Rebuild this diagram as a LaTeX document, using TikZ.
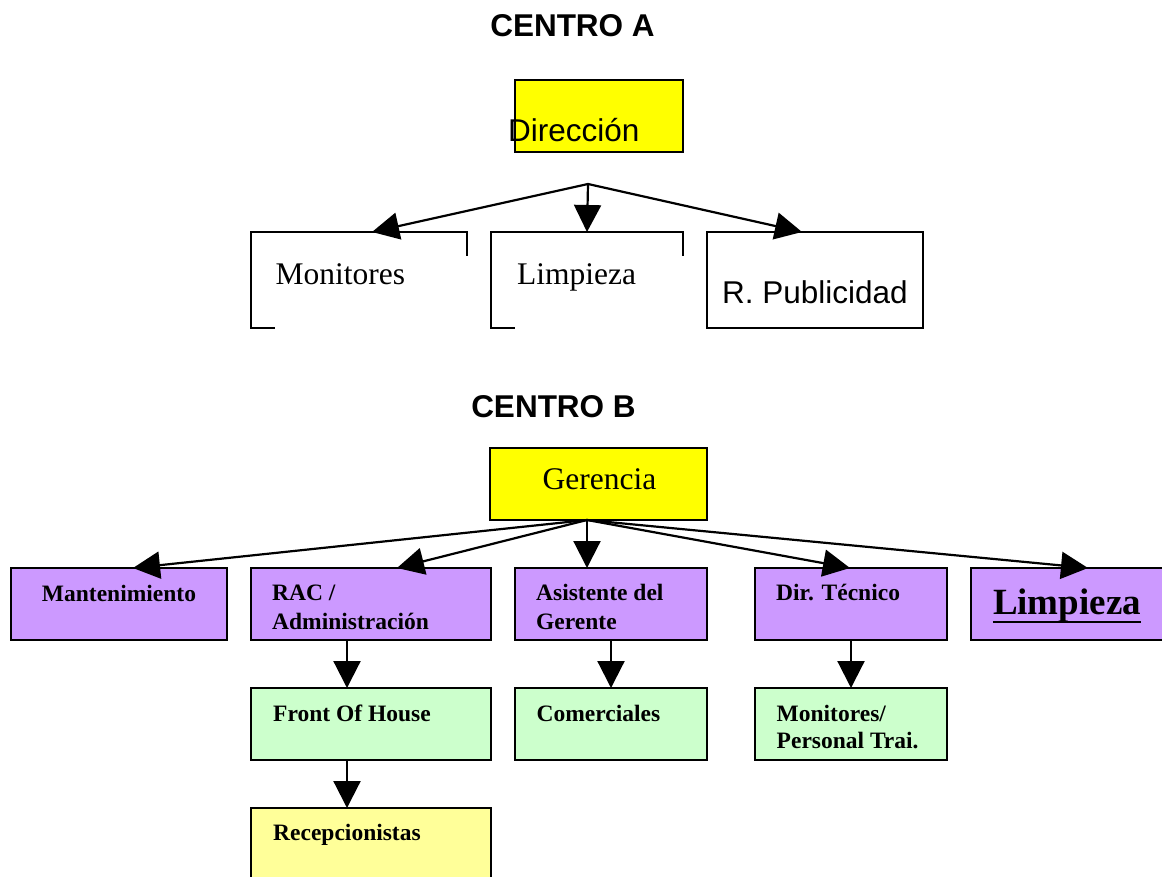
\documentclass[tikz,border=0pt]{standalone}
\usepackage{fontspec}
\setmainfont{Liberation Serif}
\newfontfamily\arialf{Liberation Sans}
\usetikzlibrary{arrows.meta,calc}
\definecolor{yel}{HTML}{FFFF00}
\definecolor{pur}{HTML}{CC99FF}
\definecolor{grn}{HTML}{CCFFCC}
\definecolor{lyel}{HTML}{FFFF99}
\tikzset{
 box/.style={draw=black, line width=2pt, anchor=north west, inner sep=0pt, outer sep=0pt},
 txt/.style={anchor=base west, inner sep=0pt},
 ctxt/.style={anchor=base, inner sep=0pt},
 conn/.style={line width=2.2pt, -{Triangle[length=27pt,width=27pt]}},
 serifbig/.style={font=\fontsize{31.5}{36}\selectfont},
 sansbig/.style={font=\arialf\fontsize{31.5}{36}\selectfont},
 headtxt/.style={font=\arialf\bfseries\fontsize{31.5}{36}\selectfont},
 smalltxt/.style={font=\bfseries\fontsize{23.5}{28}\selectfont},
 hugetxt/.style={font=\bfseries\fontsize{37}{42}\selectfont},
}
\begin{document}
\begin{tikzpicture}[x=1pt,y=-1pt]
\useasboundingbox (0,0) rectangle (1162,877);
\fill[white] (0,0) rectangle (1162,877);

% ---------- CENTRO A ----------
\node[ctxt, headtxt] (ca) at (572.5,37) {CENTRO A};
\node[box, fill=yel, minimum width=168pt, minimum height=72pt] (dir) at (515,80) {};
\node[txt, sansbig] (dirt) at (508,142) {Dirección};

\node[box, fill=white, minimum width=216pt, minimum height=96pt] (mon) at (251,232) {};
\node[box, fill=white, minimum width=192pt, minimum height=96pt] (lim) at (491,232) {};
\node[box, fill=white, minimum width=216pt, minimum height=96pt] (pub) at (707,232) {};
\fill[white] ($(mon.north west)+(24,24)$) rectangle ($(mon.south east)+(3,3)$);
\fill[white] ($(lim.north west)+(24,24)$) rectangle ($(lim.south east)+(3,3)$);
\node[txt, serifbig] (mont) at (275.5,285) {Monitores};
\node[txt, serifbig] (limt) at (517,285) {Limpieza};
\node[txt, sansbig] (pubt) at (722,304) {R. Publicidad};

\coordinate (hubA) at ($(dir.south west)+(73,32)$);
\draw[conn] (hubA) -- ($(mon.north west)+(121,0)$);
\draw[conn] (hubA) -- ($(lim.north west)+(96,0)$);
\draw[conn] (hubA) -- ($(pub.north west)+(95,0)$);

% ---------- CENTRO B ----------
\node[ctxt, headtxt] (cb) at (553.5,417) {CENTRO B};
\node[box, fill=yel, minimum width=217pt, minimum height=72pt] (ger) at (490,448) {};
\node[ctxt, serifbig] (gert) at (599.5,489) {Gerencia};

\node[box, fill=pur, minimum width=216pt, minimum height=72pt] (mant) at (11,568) {};
\node[box, fill=pur, minimum width=240pt, minimum height=72pt] (rac) at (251,568) {};
\node[box, fill=pur, minimum width=192pt, minimum height=72pt] (asis) at (515,568) {};
\node[box, fill=pur, minimum width=192pt, minimum height=72pt] (dtec) at (755,568) {};
\node[box, fill=pur, minimum width=193pt, minimum height=72pt] (limb) at (971,568) {};

\node[box, fill=grn, minimum width=240pt, minimum height=72pt] (foh) at (251,688) {};
\node[box, fill=grn, minimum width=192pt, minimum height=72pt] (com) at (515,688) {};
\node[box, fill=grn, minimum width=192pt, minimum height=72pt] (monp) at (755,688) {};

\node[box, fill=lyel, minimum width=240pt, minimum height=80pt] (rec) at (251,808) {};

\node[ctxt, smalltxt] (mantt) at (119,601) {Mantenimiento};
\node[txt, smalltxt] (ract1) at (272,600) {RAC /};
\node[txt, smalltxt] (ract2) at (272,629) {Administración};
\node[txt, smalltxt] (asist1) at (536,600) {Asistente del};
\node[txt, smalltxt] (asist2) at (536,629) {Gerente};
\node[txt, smalltxt] (dtect) at (776,600) {Dir. Técnico};
\node[ctxt, hugetxt] (limbt) at (1067,614) {Limpieza};
\draw[line width=2.4pt] ($(limbt.base west)+(0,8)$) -- ($(limbt.base east)+(0,8)$);

\node[txt, smalltxt] (foht) at (273,721) {Front Of House};
\node[txt, smalltxt] (comt) at (536.5,721) {Comerciales};
\node[txt, smalltxt] (monpt1) at (776.5,721) {Monitores/};
\node[txt, smalltxt] (monpt2) at (776.5,748) {Personal Trai.};
\node[txt, smalltxt] (rect) at (273,840) {Recepcionistas};

\coordinate (hubB) at ($(ger.south west)+(97,0)$);
\draw[conn] (hubB) -- ($(mant.north west)+(122,0)$);
\draw[conn] (hubB) -- ($(rac.north west)+(146,0)$);
\draw[conn] (hubB) -- ($(asis.north west)+(72,0)$);
\draw[conn] (hubB) -- ($(dtec.north west)+(95,0)$);
\draw[conn] (hubB) -- ($(limb.north west)+(117,0)$);

\draw[conn] ($(rac.south west)+(96,0)$) -- ($(foh.north west)+(96,0)$);
\draw[conn] ($(asis.south west)+(96,0)$) -- ($(com.north west)+(96,0)$);
\draw[conn] ($(dtec.south west)+(96,0)$) -- ($(monp.north west)+(96,0)$);
\draw[conn] ($(foh.south west)+(96,0)$) -- ($(rec.north west)+(96,0)$);
\end{tikzpicture}
\end{document}
